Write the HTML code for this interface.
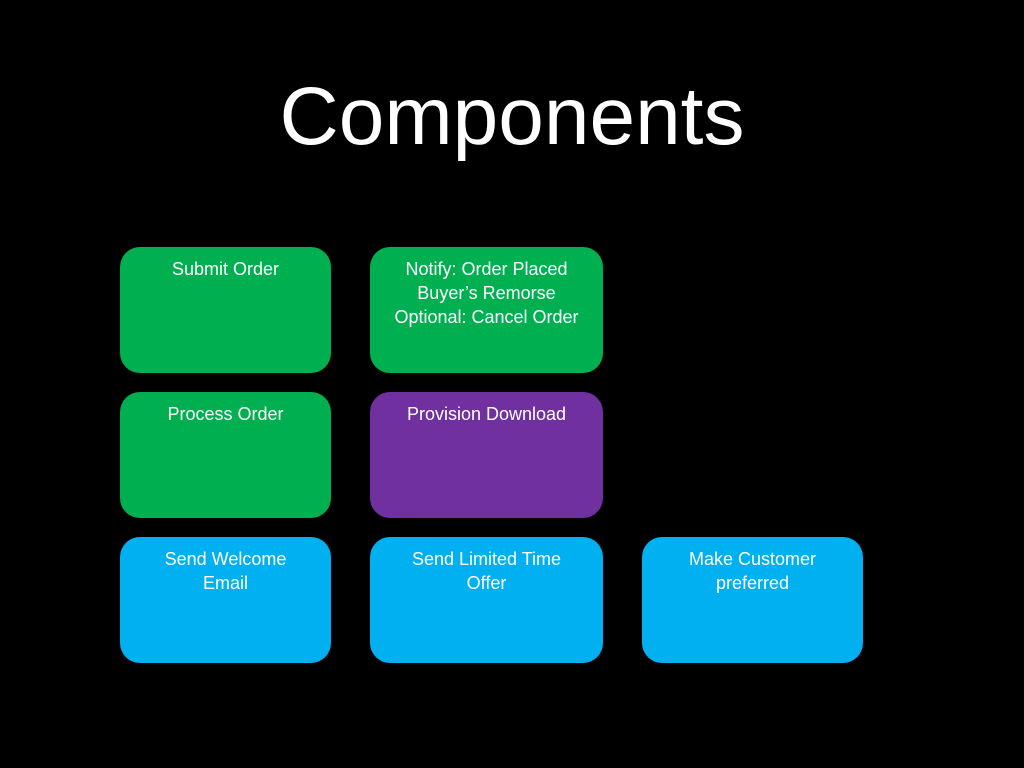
<!DOCTYPE html>
<html><head><style>
html,body{margin:0;padding:0;background:#000;}
body{width:1024px;height:768px;position:relative;overflow:hidden;font-family:"Liberation Sans",Arial,sans-serif;}
h1{position:absolute;left:0;top:72px;width:1024px;margin:0;text-align:center;color:#fff;font-weight:normal;font-size:82px;line-height:90px;}
.b{position:absolute;border-radius:20px;color:#fff;font-size:18px;line-height:24px;text-align:center;box-sizing:border-box;padding-top:10px;}
.g{background:#00b050}.p{background:#7030a0}.c{background:#00b0f0}
</style></head><body>
<h1>Components</h1>
<div class="b g" style="left:120px;top:247px;width:211px;height:126px">Submit Order</div>
<div class="b g" style="left:370px;top:247px;width:233px;height:126px">Notify: Order Placed<br>Buyer’s Remorse<br>Optional: Cancel Order</div>
<div class="b g" style="left:120px;top:392px;width:211px;height:126px">Process Order</div>
<div class="b p" style="left:370px;top:392px;width:233px;height:126px">Provision Download</div>
<div class="b c" style="left:120px;top:537px;width:211px;height:126px">Send Welcome<br>Email</div>
<div class="b c" style="left:370px;top:537px;width:233px;height:126px">Send Limited Time<br>Offer</div>
<div class="b c" style="left:642px;top:537px;width:221px;height:126px">Make Customer<br>preferred</div>
</body></html>
